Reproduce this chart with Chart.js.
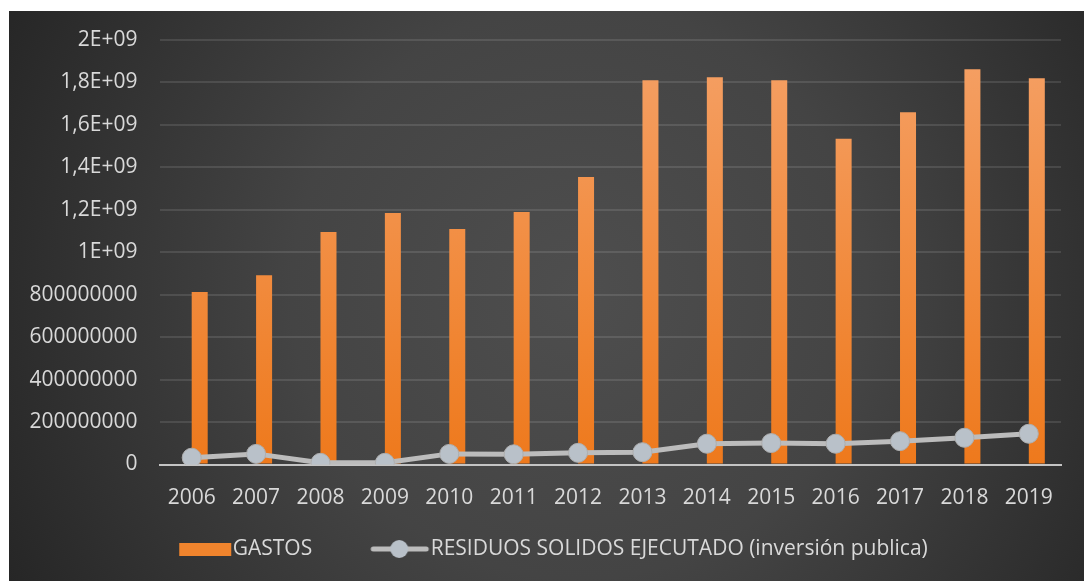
<!DOCTYPE html>
<html>
<head>
<meta charset="utf-8">
<script src="https://cdn.jsdelivr.net/npm/chart.js@4.4.0/dist/chart.umd.min.js"></script>
<style>
html, body { margin: 0; padding: 0; background: #fff; }
#myChart { position: absolute; left: 9px; top: 11px; }
</style>
</head>
<body>
<canvas id="myChart" width="1075" height="570"></canvas>
<script>
const years = ['2006','2007','2008','2009','2010','2011','2012','2013','2014','2015','2016','2017','2018','2019'];
const gastos = [813000000, 892000000, 1095000000, 1185000000, 1110000000, 1190000000, 1355000000,
                1810000000, 1825000000, 1810000000, 1535000000, 1660000000, 1862000000, 1820000000];
const residuos = [32000000, 50000000, 8000000, 8000000, 50000000, 48000000, 55000000,
                  58000000, 98000000, 101000000, 98000000, 110000000, 126000000, 145000000];
const yTickLabels = ['0','200000000','400000000','600000000','800000000','1E+09',
                     '1,2E+09','1,4E+09','1,6E+09','1,8E+09','2E+09'];

const textColor = '#d9d9d9';
const lineColor = '#bcbcbc';
const pointFill = '#b9c1c9';

Chart.defaults.font.family = "'Open Sans', sans-serif";
Chart.defaults.font.size = 21;

// legend icons: 100px wide images centred in an 80px slot, the visible part sits to the right
function makeIcon(w, h, draw){
    const c = document.createElement('canvas');
    c.width = w; c.height = h;
    draw(c.getContext('2d'), w, h);
    return c;
}

const barIcon = makeIcon(100, 13, (ctx, w, h) => {
    ctx.fillStyle = '#f0842d';
    ctx.fillRect(47, 0, 52, h);
});
const lineIcon = makeIcon(100, 22, (ctx, w, h) => {
    ctx.strokeStyle = lineColor;
    ctx.lineWidth = 5;
    ctx.lineCap = 'round';
    ctx.beginPath();
    ctx.moveTo(43, h/2); ctx.lineTo(96, h/2);
    ctx.stroke();
    ctx.beginPath();
    ctx.arc(69, h/2, 9, 0, Math.PI*2);
    ctx.fillStyle = pointFill;
    ctx.fill();
});
const legendIcons = [null, barIcon, lineIcon];

const background = {
    id: 'background',
    beforeDraw(chart){
        const {ctx, width, height} = chart;
        const g = ctx.createRadialGradient(570, 280, 0, 570, 280, 640);
        g.addColorStop(0, '#4e4e4e');
        g.addColorStop(0.45, '#444444');
        g.addColorStop(1, '#262626');
        ctx.save();
        ctx.fillStyle = g;
        ctx.fillRect(0, 0, width, height);
        ctx.restore();
    }
};

function barFill(context){
    const area = context.chart.chartArea;
    if(!area) return '#f0842d';
    const g = context.chart.ctx.createLinearGradient(0, area.top, 0, area.bottom);
    g.addColorStop(0, '#f5a167');
    g.addColorStop(1, '#ee791c');
    return g;
}

const config = {
    type: 'bar',
    data: {
        labels: years,
        datasets: [
            { label: 'spacer', data: [], order: 1 },
            { label: 'GASTOS', data: gastos, backgroundColor: barFill, order: 1 },
            {
                type: 'line', label: 'RESIDUOS SOLIDOS EJECUTADO (inversión publica)',
                data: residuos, order: 0,
                borderColor: lineColor, borderWidth: 5,
                pointRadius: 9.5, pointBackgroundColor: pointFill,
                pointBorderColor: '#aeaeae', pointBorderWidth: 1,
                tension: 0
            }
        ]
    },
    options: {
        responsive: false,
        animation: false,
        categoryPercentage: 0.497,
        barPercentage: 1,
        layout: { padding: { left: 0, right: 23, top: 29, bottom: 11.5 } },
        plugins: {
            tooltip: { enabled: false },
            legend: {
                position: 'bottom',
                labels: {
                    color: textColor,
                    usePointStyle: true,
                    pointStyleWidth: 80,
                    padding: 28,
                    filter: (item) => item.datasetIndex !== 0,
                    sort: (a, b) => a.datasetIndex - b.datasetIndex,
                    generateLabels(chart){
                        const items = Chart.defaults.plugins.legend.labels.generateLabels(chart);
                        items.forEach(it => { it.pointStyle = legendIcons[it.datasetIndex]; });
                        return items;
                    }
                }
            }
        },
        scales: {
            x: {
                grid: { display: false, drawTicks: false },
                border: { display: true, color: '#c4c4c4', width: 2 },
                ticks: { color: textColor, padding: 21, maxRotation: 0 },
                afterFit(scale){ scale.height = 46; }
            },
            y: {
                min: 0, max: 2000000000,
                ticks: {
                    stepSize: 200000000,
                    color: textColor,
                    padding: 22,
                    callback: (value, index) => yTickLabels[index]
                },
                grid: {
                    drawTicks: false,
                    lineWidth: 2,
                    color: (c) => (c.tick && c.tick.value === 0) ? 'transparent' : 'rgba(255,255,255,0.11)'
                },
                border: { display: false },
                afterFit(scale){
                    scale.width = 150.5;
                    scale.paddingTop = 0;
                    scale.paddingBottom = 0;
                }
            }
        }
    },
    plugins: [background]
};

const chart = new Chart(document.getElementById('myChart'), config);
</script>
</body>
</html>
